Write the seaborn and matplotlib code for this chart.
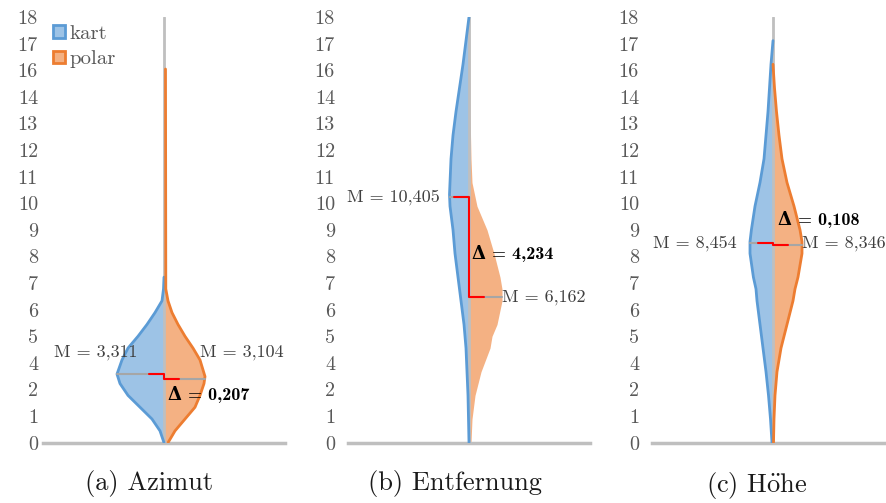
import numpy as np
import matplotlib
matplotlib.use("Agg")
import matplotlib.pyplot as plt
from matplotlib.patches import Patch
import seaborn as sns

# Captions and series
panels = ["(a) Azimut", "(b) Entfernung", r"(c) H$\ddot{\mathrm{o}}$he"]
series = ["kart", "polar"]

# Half-violin profiles (value level, half width)
azimut_kart_y = [0, 0.5, 1, 1.5, 2, 2.5, 2.9, 3.5, 4, 4.5, 5, 5.5, 6, 6.5, 7]
azimut_kart_w = [0, 4, 12, 24, 36, 44, 47, 42, 36, 26, 17, 9, 2, 0.5, 0]
azimut_polar_y = [0, 0.5, 1, 1.5, 2, 2.5, 2.8, 3.5, 4, 4.5, 5, 5.5, 6, 6.5, 15.8]
azimut_polar_w = [4, 11, 21, 31, 36, 40, 41, 36, 29, 21, 14, 8, 4, 1.8, 1.5]

entf_kart_y = [0, 1, 2, 3, 4, 5, 6, 7, 8, 9, 10, 10.5, 11, 12, 13, 14, 16, 17, 18]
entf_kart_w = [0, 0.5, 1, 2, 3, 5, 8, 11, 14, 16, 19, 19.5, 19, 18, 16, 13, 6, 3, 0]
entf_polar_y = [0, 1, 2, 3, 4, 4.5, 5, 6, 6.5, 7, 8, 9, 10, 11, 12, 14, 18]
entf_polar_w = [2, 3, 6, 12, 21, 23, 28, 33, 33, 31, 25, 18, 8, 3, 2, 1, 0.5]

hoehe_kart_y = [0, 1, 2, 3, 4, 5, 6, 6.5, 7, 8, 8.5, 9, 10, 11, 12, 13, 14, 16, 17]
hoehe_kart_w = [1, 2.5, 4.5, 7, 10, 13, 16, 17, 19.6, 23, 23, 21.6, 18, 13, 9, 7, 5, 2, 0]
hoehe_polar_y = [0, 1, 2, 3, 4, 5, 6, 6.5, 7, 8, 8.5, 9, 10, 11, 12, 13, 14, 15, 16]
hoehe_polar_w = [0.5, 1, 2, 4, 8, 14, 20, 22, 25, 29, 29, 27, 21, 14, 9, 6, 3.5, 1.5, 0]

profiles = [
    [(azimut_kart_y, azimut_kart_w), (azimut_polar_y, azimut_polar_w)],
    [(entf_kart_y, entf_kart_w), (entf_polar_y, entf_polar_w)],
    [(hoehe_kart_y, hoehe_kart_w), (hoehe_polar_y, hoehe_polar_w)],
]

# Median lines (kart, polar) and annotation texts
median_lines = [[2.90, 2.69], [10.405, 6.162], [8.454, 8.346]]
median_labels = [["M = 3,311", "M = 3,104"],
                 ["M = 10,405", "M = 6,162"],
                 ["M = 8,454", "M = 8,346"]]
delta_labels = ["Δ = 0,207", "Δ = 4,234", "Δ = 0,108"]

yticks = [0, 1, 2, 4, 5, 6, 7, 8, 9, 10, 11, 12, 13, 14, 16, 17, 18]

fills = ["#9DC3E6", "#F4B183"]
edges = ["#5B9BD5", "#ED7D31"]
grey = "#BFBFBF"

sns.set_style("white")
plt.rcParams["font.family"] = ["cmr10", "DejaVu Serif"]
plt.rcParams["mathtext.fontset"] = "cm"
plt.rcParams["axes.unicode_minus"] = False

fig = plt.figure(figsize=(8.86, 5.03), dpi=100)
W, H = 886, 503
lefts = [43, 348, 652]
pads = [3.6, 9.4, 9.4]
bottom = 1 - 442.7 / H
height = (442.7 - 17) / H

# text layout per panel: (kart label x, y), (polar label x, y), (delta x, y)
text_pos = [
    [(-27, 3.84), (36, 3.84), (4, 2.02)],
    [(-29, 10.4), (33, 6.16), (3, 8.0)],
    [(-36, 8.45), (29, 8.42), (5, 9.44)],
]
edge_on = [[True, True], [True, False], [True, True]]

for i, ax_left in enumerate(lefts):
    ax = fig.add_axes([ax_left / W, bottom, 242 / W, height])
    ax.set_xlim(-121, 121)
    ax.set_ylim(0, 18)

    for j in range(2):
        y, w = profiles[i][j]
        y = np.array(y, dtype=float)
        w = np.array(w, dtype=float)
        sign = -1 if j == 0 else 1
        ax.fill_betweenx(y, 0, sign * w, color=fills[j], lw=0, zorder=2)

    ax.plot([0, 0], [0, 18], color=grey, lw=2, zorder=3)

    for j in range(2):
        y, w = profiles[i][j]
        sign = -1 if j == 0 else 1
        if edge_on[i][j]:
            sns.lineplot(x=sign * np.array(w, dtype=float), y=y, sort=False,
                         estimator=None, orient="y", color=edges[j], lw=2,
                         ax=ax, zorder=4)

    # median lines
    mk, mp = median_lines[i]
    wk = np.interp(mk, *profiles[i][0])
    wp = np.interp(mp, *profiles[i][1])
    ax.plot([-wk, 0], [mk, mk], color="#A6A6A6", lw=1.5, zorder=5)
    ax.plot([0, wp], [mp, mp], color="#A6A6A6", lw=1.5, zorder=5)
    ax.plot([-15, 0, 0, 15], [mk, mk, mp, mp], color="#FF0000", lw=1.5,
            zorder=6)

    (kx, ky), (px, py), (dx, dy) = text_pos[i]
    ax.text(kx, ky, median_labels[i][0], ha="right", va="center",
            fontsize=13, color="#404040", zorder=7)
    ax.text(px, py, median_labels[i][1], ha="left", va="center",
            fontsize=13, color="#404040", zorder=7)
    ax.text(dx, dy, delta_labels[i], ha="left", va="center", fontsize=13,
            fontweight="bold", family=["cmb10", "DejaVu Serif"],
            color="black", zorder=7)

    ax.set_yticks(np.linspace(0, 18, len(yticks)))
    ax.set_yticklabels([str(t) for t in yticks])
    ax.tick_params(axis="y", length=0, pad=pads[i], labelsize=14.5,
                   labelcolor="#595959")
    ax.set_xticks([])
    sns.despine(ax=ax, left=True)
    ax.spines["bottom"].set_color(grey)
    ax.spines["bottom"].set_linewidth(2.5)

    ax.set_xlabel(panels[i], fontsize=19, color="#1A1A1A")
    ax.xaxis.set_label_coords(0.44 if i < 2 else 0.435, -0.065)

    if i == 0:
        handles = [Patch(facecolor=fills[k], edgecolor=edges[k], lw=2,
                         label=series[k]) for k in range(2)]
        ax.legend(handles=handles, loc="upper left",
                  bbox_to_anchor=(-0.035, 1.025), frameon=False, fontsize=15,
                  handlelength=0.55, handleheight=0.55, handletextpad=0.25,
                  labelspacing=0.35, labelcolor="#595959")

fig.savefig("out.png", dpi=100)
